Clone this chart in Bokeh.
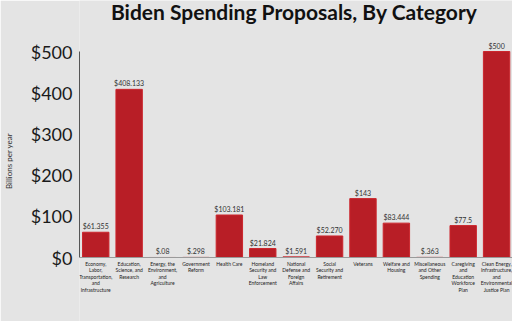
from bokeh.plotting import figure
from bokeh.models import Range1d, ColumnDataSource, Span, Label, FixedTicker
from bokeh.core.properties import value
from bokeh.embed import file_html
from bokeh.resources import INLINE

categories = [
    "Economy,\nLabor,\nTransportation,\nand\nInfrastructure",
    "Education,\nScience, and\nResearch",
    "Energy, the\nEnvironment,\nand\nAgriculture",
    "Government\nReform",
    "Health Care",
    "Homeland\nSecurity and\nLaw\nEnforcement",
    "National\nDefense and\nForeign\nAffairs",
    "Social\nSecurity and\nRetirement",
    "Veterans",
    "Welfare and\nHousing",
    "Miscellaneous\nand Other\nSpending",
    "Caregiving\nand\nEducation\nWorkforce\nPlan",
    "Clean Energy,\nInfrastructure,\nand\nEnvironmental\nJustice Plan",
]
values = [61.355, 408.133, 0.08, 0.298, 103.181, 21.824, 1.591, 52.270, 143, 83.444, 0.363, 77.5, 500]
value_labels = ["$61.355", "$408.133", "$.08", "$.298", "$103.181", "$21.824", "$1.591",
                "$52.270", "$143", "$83.444", "$.363", "$77.5", "$500"]
y_ticks = [0, 100, 200, 300, 400, 500]
y_tick_labels = ["$0", "$100", "$200", "$300", "$400", "$500"]
title_text = "Biden Spending Proposals, By Category"
y_label = "Billions per year"

xs = list(range(len(categories)))
src = ColumnDataSource(dict(x=xs, v=values, lab=value_labels, cat=categories))

BG = "#e4e4e4"
p = figure(width=512, height=321, output_backend="svg", toolbar_location=None,
           x_range=Range1d(-0.486, 12.476), y_range=Range1d(-155.3, 623.8),
           x_axis_location=None, min_border_left=77, min_border_right=0,
           min_border_top=0, min_border_bottom=0)
p.background_fill_color = BG
p.border_fill_color = BG
p.outline_line_color = None
p.grid.visible = False

ax = p.yaxis[0]
ax.bounds = (0, 500)
ax.ticker = FixedTicker(ticks=y_ticks)
ax.major_label_overrides = {t: l for t, l in zip(y_ticks, y_tick_labels)}
ax.major_tick_line_color = None
ax.minor_tick_line_color = None
ax.major_tick_out = 0
ax.major_label_standoff = 7
ax.major_label_text_font = "Lato"
ax.major_label_text_font_size = "18px"
ax.major_label_text_color = "#1a1a1a"
ax.axis_line_color = "#555555"
ax.axis_line_width = 1
ax.axis_label = y_label
ax.axis_label_text_font = "Lato"
ax.axis_label_text_font_style = "normal"
ax.axis_label_text_font_size = "8px"
ax.axis_label_text_color = "#333333"
ax.axis_label_standoff = 14

p.add_layout(Span(location=0, dimension="width", line_color="#9a9a9a", line_width=1))

p.vbar(x="x", top="v", bottom=0, width=0.79, source=src,
       fill_color="#b81e26", line_color="#cc262d", line_width=1)

p.text(x="x", y="v", text="lab", source=src, text_align="center", text_baseline="bottom",
       y_offset=-2, text_font=value("Lato"), text_font_size="7px", text_color="#333333")

p.text(x="x", y=0, text="cat", source=src, text_align="center", text_baseline="top",
       y_offset=3, text_font=value("Lato"), text_font_size="5px", text_color="#222222",
       text_line_height=1.1)

p.add_layout(Label(x=5.94, y=597, text=title_text, text_align="center", text_baseline="middle",
                   text_font="Lato", text_font_style="bold", text_font_size="21px",
                   text_color="#111111"))

open("out.html", "w").write(file_html(p, INLINE))
